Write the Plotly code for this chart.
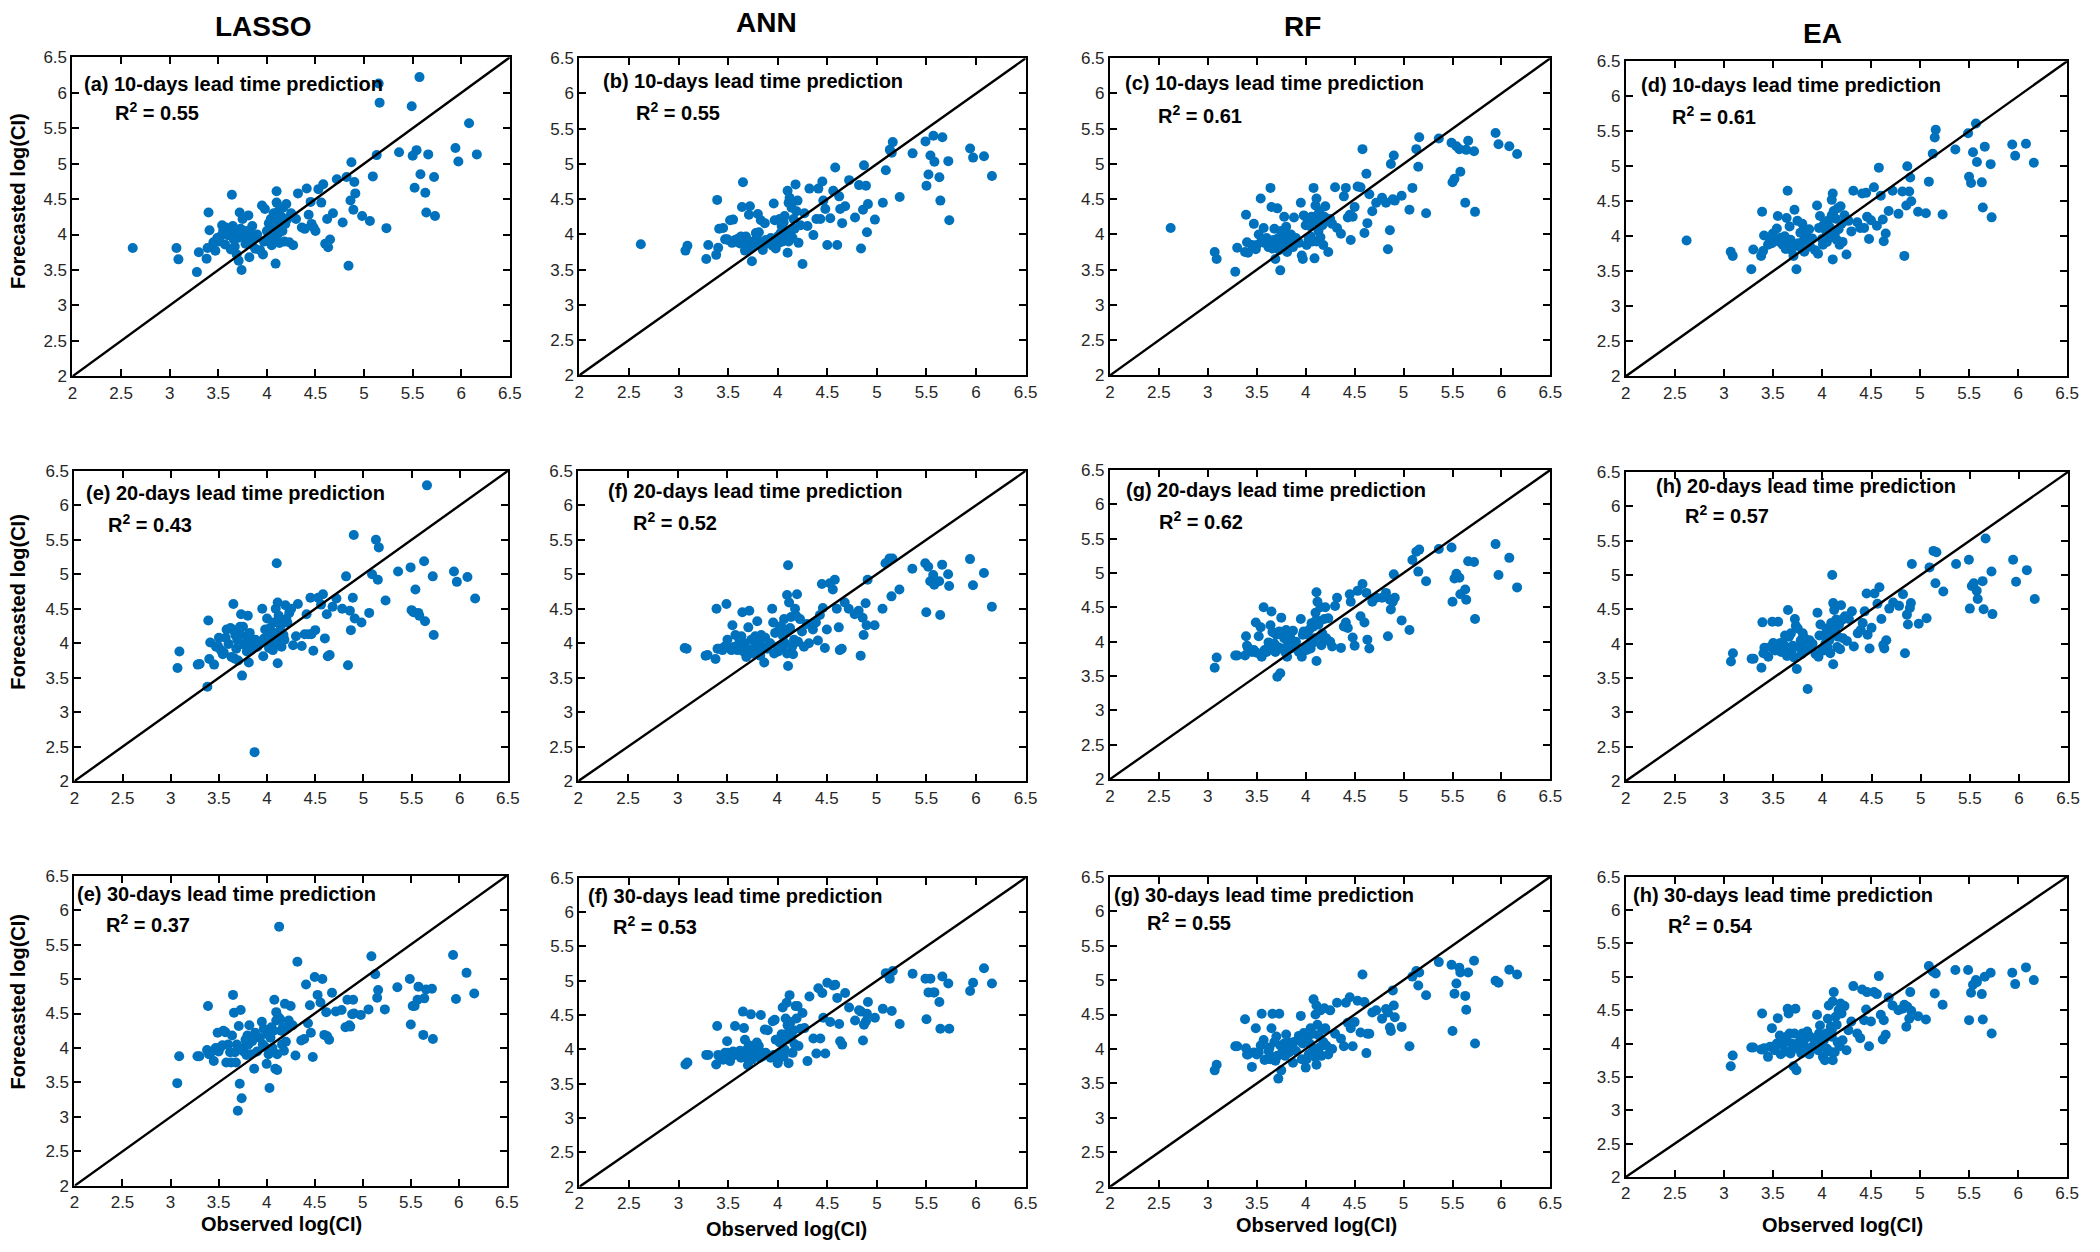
import plotly.graph_objects as go

# ---------------- data ----------------
model_names = ["LASSO", "ANN", "RF", "EA"]
lead_times = ["10-days", "20-days", "30-days"]
panel_tags = ["(a)", "(b)", "(c)", "(d)", "(e)", "(f)", "(g)", "(h)", "(e)", "(f)", "(g)", "(h)"]
r2_values = ["0.55", "0.55", "0.61", "0.61",
             "0.43", "0.52", "0.62", "0.57",
             "0.37", "0.53", "0.55", "0.54"]
axis_range = [2, 6.5]
tick_values = [2, 2.5, 3, 3.5, 4, 4.5, 5, 5.5, 6, 6.5]

obs_common = [
    3.07, 3.09, 3.28, 3.30, 3.38, 3.39, 3.40, 3.41, 3.45, 3.47,
    3.49, 3.50, 3.52, 3.54, 3.55, 3.57, 3.58, 3.60, 3.62, 3.63,
    3.64, 3.65, 3.66, 3.67, 3.68, 3.69, 3.70, 3.71, 3.72, 3.73,
    3.74, 3.75, 3.76, 3.78, 3.79, 3.80, 3.81, 3.82, 3.83, 3.84,
    3.85, 3.87, 3.88, 3.90, 3.93, 3.95, 3.96, 3.97, 3.98, 4.00,
    4.01, 4.02, 4.03, 4.04, 4.05, 4.06, 4.07, 4.08, 4.09, 4.10,
    4.10, 4.11, 4.11, 4.12, 4.13, 4.14, 4.15, 4.16, 4.17, 4.18,
    4.19, 4.20, 4.21, 4.23, 4.25, 4.27, 4.30, 4.32, 4.36, 4.39,
    4.41, 4.43, 4.45, 4.46, 4.48, 4.50, 4.53, 4.56, 4.58, 4.60,
    4.62, 4.63, 4.65, 4.68, 4.72, 4.78, 4.82, 4.84, 4.86, 4.87,
    4.89, 4.90, 4.91, 4.98, 5.06, 5.09, 5.13, 5.15, 5.16, 5.23,
    5.36, 5.49, 5.50, 5.52, 5.54, 5.57, 5.58, 5.63, 5.64, 5.66,
    5.72, 5.73, 5.94, 5.97, 6.08, 6.16]
obs_10d = [2.62] + obs_common
obs_20d = obs_common
obs_30d = obs_common

lasso_10d = [3.81,
    3.81, 3.65, 3.47, 3.75, 3.66, 3.81, 4.31, 4.06, 3.89, 3.77,
    3.95, 3.90, 3.97, 4.13, 4.05, 3.86, 4.10, 3.99, 4.04, 3.79,
    4.56, 4.12, 3.93, 3.83, 4.01, 3.72, 3.95, 3.63, 4.31, 4.08,
    3.50, 4.22, 3.98, 3.87, 4.05, 3.93, 4.27, 3.68, 4.02, 3.86,
    4.12, 3.96, 3.80, 4.00, 3.78, 4.41, 3.72, 3.90, 4.36, 4.05,
    3.92, 4.16, 3.99, 4.22, 3.85, 4.08, 4.30, 3.95, 3.59, 4.61,
    4.45, 4.20, 4.00, 4.33, 3.88, 4.12, 4.25, 4.05, 4.38, 3.90,
    4.15, 4.43, 4.22, 3.89, 4.30, 3.85, 4.22, 4.58, 4.10, 4.08,
    4.65, 4.28, 4.46, 4.15, 4.10, 4.05, 4.64, 4.45, 4.71, 3.87,
    4.22, 3.82, 3.93, 4.30, 4.78, 4.17, 4.81, 3.56, 4.48, 5.02,
    4.35, 4.74, 4.58, 4.26, 4.19, 4.82, 5.12, 6.13, 5.86, 4.09,
    5.16, 5.81, 5.11, 4.66, 5.19, 6.22, 4.85, 4.59, 4.31, 5.13,
    4.81, 4.26, 5.22, 5.03, 5.57, 5.13]

ann_10d = [3.86,
    3.77, 3.84, 3.65, 3.85, 3.71, 4.49, 3.81, 4.08, 4.09, 3.93,
    3.93, 3.92, 4.20, 3.88, 4.21, 3.92, 3.90, 3.94, 3.87, 3.97,
    4.39, 4.74, 3.93, 3.77, 3.97, 3.87, 3.90, 4.28, 4.40, 3.80,
    3.62, 3.90, 3.85, 4.02, 3.95, 4.29, 4.03, 3.88, 4.20, 3.83,
    3.78, 4.16, 3.92, 3.87, 3.95, 3.84, 4.44, 4.20, 3.80, 3.97,
    3.88, 4.22, 4.02, 4.12, 3.90, 4.17, 4.26, 3.95, 4.05, 3.74,
    4.62, 4.45, 3.90, 4.52, 4.02, 4.38, 3.95, 4.22, 4.08, 4.71,
    4.33, 4.48, 3.88, 4.13, 3.58, 4.30, 4.12, 4.65, 3.99, 4.22,
    4.65, 4.22, 4.75, 4.48, 4.36, 3.85, 4.23, 4.62, 4.95, 3.85,
    4.54, 4.36, 4.16, 4.40, 4.77, 4.24, 4.70, 3.80, 4.35, 4.98,
    4.69, 4.03, 4.43, 4.21, 4.45, 4.91, 5.20, 5.16, 5.31, 4.53,
    5.15, 5.32, 4.69, 4.85, 5.12, 5.40, 5.03, 4.81, 4.48, 5.38,
    5.04, 4.20, 5.22, 5.09, 5.11, 4.83]

rf_10d = [4.09,
    3.75, 3.65, 3.47, 3.81, 3.75, 4.28, 3.89, 3.74, 3.85, 4.15,
    3.79, 3.85, 4.00, 4.51, 3.92, 4.09, 3.88, 3.95, 3.82, 3.90,
    4.66, 4.39, 3.80, 3.92, 4.08, 3.65, 3.85, 4.37, 3.95, 3.78,
    3.49, 4.05, 3.87, 4.25, 3.96, 4.11, 3.75, 4.00, 3.83, 3.92,
    4.00, 3.82, 4.24, 3.95, 3.88, 4.45, 3.70, 3.65, 4.27, 4.13,
    3.85, 4.20, 3.93, 4.12, 3.97, 4.25, 3.90, 4.66, 3.66, 4.18,
    4.41, 4.51, 3.90, 4.27, 4.05, 4.33, 3.96, 4.21, 4.13, 3.85,
    4.25, 4.40, 4.18, 3.75, 4.22, 4.15, 4.67, 4.09, 4.01, 4.54,
    4.66, 4.24, 4.28, 3.92, 4.25, 4.39, 4.68, 4.67, 5.21, 4.02,
    4.86, 4.16, 4.57, 4.33, 4.45, 4.52, 4.45, 3.79, 4.06, 5.00,
    4.50, 5.12, 4.48, 4.55, 4.35, 4.66, 5.21, 4.96, 5.38, 4.30,
    5.36, 5.30, 4.74, 4.79, 5.25, 5.21, 4.89, 4.45, 5.20, 5.33,
    5.18, 4.32, 5.44, 5.28, 5.25, 5.14]

ea_10d = [3.94,
    3.78, 3.72, 3.53, 3.81, 3.72, 4.35, 3.79, 4.01, 3.88, 3.95,
    3.90, 4.04, 3.95, 4.11, 4.29, 3.92, 3.98, 3.88, 4.00, 3.82,
    4.26, 4.65, 3.85, 4.14, 3.95, 3.80, 3.90, 3.72, 4.38, 3.87,
    3.53, 4.22, 3.90, 4.05, 3.83, 4.18, 3.93, 3.78, 4.08, 4.00,
    3.95, 4.10, 3.85, 3.97, 3.80, 4.44, 3.75, 4.12, 4.29, 3.96,
    3.88, 4.17, 3.95, 4.08, 3.92, 4.22, 3.98, 4.13, 4.05, 4.30,
    4.52, 4.61, 3.67, 4.36, 4.02, 4.25, 3.95, 4.40, 4.10, 3.88,
    4.43, 4.18, 3.92, 4.30, 3.74, 4.22, 4.07, 4.65, 4.20, 4.12,
    4.61, 4.12, 4.62, 4.28, 3.96, 4.23, 4.70, 4.15, 4.98, 4.58,
    4.24, 3.93, 4.04, 4.36, 4.65, 4.32, 4.64, 3.72, 4.44, 5.00,
    4.64, 4.84, 4.50, 4.35, 4.33, 4.78, 5.18, 5.41, 5.52, 4.31,
    5.24, 5.47, 4.85, 4.76, 5.20, 5.61, 5.06, 4.77, 4.41, 5.28,
    5.03, 4.27, 5.31, 5.15, 5.32, 5.05]

lasso_20d = [
    3.64, 3.88, 3.69, 3.70, 3.37, 4.33, 3.77, 4.01, 3.69, 3.95,
    3.96, 4.08, 3.90, 3.84, 3.87, 4.08, 4.20, 3.99, 4.22, 3.80,
    4.20, 4.57, 3.78, 4.12, 3.92, 4.05, 3.75, 4.15, 4.24, 4.42,
    3.53, 4.24, 3.98, 4.10, 3.88, 4.40, 3.72, 4.15, 3.95, 4.02,
    3.92, 2.42, 4.05, 3.95, 4.00, 4.50, 3.81, 4.07, 4.20, 4.36,
    4.18, 3.93, 4.22, 3.98, 4.10, 3.90, 4.30, 4.00, 4.50, 4.15,
    5.16, 4.59, 3.71, 4.40, 4.02, 4.25, 3.95, 4.33, 4.12, 4.05,
    4.55, 4.35, 4.30, 4.44, 4.50, 3.97, 4.10, 4.57, 3.96, 4.13,
    4.42, 4.13, 4.66, 4.13, 3.89, 4.19, 4.66, 4.56, 4.71, 4.07,
    4.42, 3.81, 3.83, 4.53, 4.65, 4.50, 4.97, 3.68, 4.47, 4.19,
    4.66, 5.57, 4.36, 4.30, 4.44, 5.00, 5.50, 4.92, 5.39, 4.62,
    5.04, 5.10, 4.48, 4.45, 4.78, 4.44, 4.40, 5.19, 4.32, 6.29,
    4.97, 4.12, 5.04, 4.89, 4.96, 4.65]

ann_20d = [
    3.93, 3.92, 3.82, 3.83, 3.77, 4.50, 3.92, 3.92, 3.90, 3.95,
    4.57, 4.05, 3.93, 3.90, 4.26, 3.95, 4.12, 3.90, 4.05, 3.95,
    4.10, 4.45, 3.88, 4.00, 3.95, 3.80, 3.85, 4.23, 4.47, 3.90,
    4.05, 3.85, 3.92, 4.10, 4.02, 4.32, 3.90, 4.00, 3.82, 4.12,
    3.95, 3.72, 4.08, 3.92, 4.00, 4.50, 4.30, 3.85, 4.15, 3.95,
    3.88, 4.20, 3.97, 4.25, 3.92, 4.10, 4.35, 4.00, 4.15, 3.85,
    4.70, 5.13, 3.67, 4.59, 4.22, 4.38, 3.95, 3.84, 4.05, 4.50,
    4.40, 4.71, 4.02, 4.35, 4.17, 3.95, 4.28, 4.00, 4.20, 4.30,
    4.04, 4.41, 4.86, 4.51, 3.93, 4.20, 4.87, 4.78, 4.92, 4.50,
    4.23, 3.90, 3.92, 4.59, 4.50, 4.42, 4.47, 3.82, 4.37, 4.12,
    4.58, 4.26, 4.92, 4.26, 4.50, 5.16, 5.23, 4.68, 5.23, 4.78,
    5.08, 5.16, 4.45, 5.11, 4.90, 4.99, 4.85, 4.90, 4.41, 5.14,
    5.00, 4.83, 5.22, 4.84, 5.02, 4.53]

rf_20d = [
    3.62, 3.77, 3.80, 3.80, 3.80, 4.08, 3.94, 3.91, 3.85, 3.88,
    4.28, 3.84, 4.08, 4.21, 3.78, 4.50, 3.88, 3.85, 3.99, 3.90,
    4.24, 4.44, 4.14, 3.88, 3.97, 3.85, 4.10, 3.49, 3.92, 4.15,
    3.54, 4.35, 3.90, 4.05, 3.85, 4.17, 3.78, 4.00, 3.92, 4.08,
    3.90, 4.16, 3.95, 4.00, 3.85, 4.33, 3.78, 4.10, 4.15, 3.92,
    3.88, 4.10, 3.95, 4.18, 3.90, 4.27, 3.98, 4.22, 4.05, 4.30,
    4.42, 4.72, 3.72, 4.58, 4.25, 4.30, 4.50, 3.95, 4.12, 4.05,
    4.33, 4.50, 4.05, 4.34, 4.00, 3.93, 4.52, 4.64, 3.91, 4.22,
    4.28, 4.20, 4.69, 4.58, 4.06, 3.94, 4.74, 4.37, 4.84, 4.28,
    4.71, 4.03, 3.90, 4.58, 4.64, 4.64, 4.71, 4.08, 4.61, 4.47,
    4.58, 4.98, 4.64, 4.31, 4.17, 5.19, 5.31, 5.02, 5.34, 4.88,
    5.35, 5.37, 4.58, 4.92, 4.99, 4.93, 4.69, 4.76, 4.61, 5.17,
    5.16, 4.33, 5.42, 4.97, 5.22, 4.79]

ea_20d = [
    3.74, 3.86, 3.78, 3.78, 3.65, 4.31, 3.86, 3.94, 3.81, 3.95,
    4.32, 4.01, 3.90, 3.95, 4.32, 4.01, 3.88, 4.00, 4.12, 3.95,
    3.82, 4.49, 4.10, 3.92, 4.15, 3.85, 3.97, 3.80, 4.36, 4.26,
    3.63, 4.22, 3.95, 4.05, 3.85, 4.15, 3.98, 4.08, 3.90, 4.02,
    3.34, 4.05, 3.95, 4.00, 3.85, 4.45, 3.81, 4.12, 4.28, 3.92,
    3.90, 4.12, 4.00, 4.22, 3.95, 4.10, 4.05, 3.86, 4.30, 4.15,
    5.00, 4.59, 3.70, 4.49, 4.20, 4.35, 3.95, 4.10, 4.28, 3.92,
    4.56, 4.35, 4.08, 4.40, 4.04, 4.36, 4.47, 3.96, 4.15, 4.20,
    4.30, 4.47, 4.73, 4.13, 3.93, 4.23, 4.73, 4.58, 4.82, 4.36,
    3.98, 3.93, 4.05, 4.51, 4.60, 4.55, 4.72, 3.86, 4.42, 4.28,
    4.52, 4.59, 5.16, 4.29, 4.37, 5.11, 5.35, 4.88, 5.33, 4.76,
    5.16, 5.22, 4.51, 4.84, 4.88, 4.77, 4.65, 4.91, 4.50, 5.53,
    5.05, 4.43, 5.22, 4.90, 5.07, 4.65]

lasso_30d = [
    3.49, 3.88, 3.88, 3.88, 3.97, 4.61, 3.91, 3.91, 3.81, 4.00,
    4.22, 3.95, 4.01, 4.04, 4.25, 4.23, 3.79, 4.05, 3.94, 3.79,
    4.18, 4.77, 4.51, 3.94, 3.79, 4.05, 3.09, 4.32, 3.48, 4.55,
    3.27, 4.00, 3.95, 4.12, 3.90, 4.18, 4.05, 4.33, 3.91, 4.15,
    4.10, 3.70, 4.22, 3.95, 4.15, 4.38, 4.05, 4.28, 4.02, 3.77,
    4.20, 3.91, 3.42, 4.15, 4.30, 4.00, 4.25, 4.70, 3.70, 4.40,
    4.52, 3.68, 3.91, 4.45, 5.76, 4.42, 4.25, 4.05, 4.30, 3.96,
    4.64, 4.09, 4.28, 4.40, 4.61, 4.33, 3.89, 5.25, 4.11, 4.13,
    4.92, 4.36, 4.62, 4.22, 3.87, 5.03, 4.77, 4.66, 5.00, 4.19,
    4.52, 4.17, 4.12, 4.80, 4.53, 4.55, 4.30, 4.70, 4.33, 4.31,
    4.49, 4.70, 4.50, 4.48, 4.56, 5.33, 5.07, 4.73, 4.84, 4.56,
    4.88, 5.00, 4.34, 4.61, 4.61, 4.70, 4.89, 4.19, 4.72, 4.85,
    4.86, 4.13, 5.35, 4.71, 5.09, 4.79]

ann_30d = [
    3.78, 3.81, 3.92, 3.92, 3.78, 4.34, 3.92, 3.90, 3.85, 3.95,
    4.12, 3.95, 3.83, 3.90, 3.97, 4.34, 3.95, 3.92, 3.98, 3.88,
    3.95, 4.55, 4.31, 4.14, 3.88, 4.00, 3.77, 4.06, 3.85, 4.51,
    3.85, 3.95, 4.02, 3.92, 4.10, 3.98, 4.05, 3.88, 4.50, 3.95,
    3.90, 4.29, 3.95, 4.28, 3.88, 4.41, 3.92, 4.43, 4.14, 3.80,
    3.85, 4.10, 3.95, 4.22, 4.61, 3.90, 4.00, 4.45, 4.68, 4.15,
    4.35, 3.80, 4.25, 4.79, 4.40, 4.20, 3.95, 4.28, 4.08, 4.63,
    4.45, 4.63, 4.05, 4.30, 4.53, 4.31, 3.83, 4.77, 4.16, 3.94,
    4.89, 4.16, 4.82, 4.46, 3.94, 4.97, 4.40, 4.93, 4.94, 4.75,
    4.37, 4.12, 4.07, 4.82, 4.61, 4.42, 4.57, 4.55, 4.13, 4.36,
    4.41, 4.52, 4.69, 4.46, 4.59, 5.11, 5.03, 4.56, 5.14, 4.37,
    5.10, 5.03, 4.44, 4.83, 5.03, 4.83, 4.83, 4.69, 4.30, 5.06,
    4.96, 4.30, 4.85, 4.97, 5.18, 4.96]

rf_30d = [
    3.69, 3.77, 4.04, 4.04, 4.43, 4.01, 3.92, 3.92, 3.74, 3.95,
    4.30, 3.92, 3.95, 4.05, 4.51, 4.13, 3.84, 3.85, 3.97, 4.02,
    3.85, 4.30, 4.51, 3.88, 4.10, 3.83, 4.18, 3.90, 3.57, 4.51,
    4.05, 3.69, 3.95, 4.08, 3.90, 4.21, 4.00, 4.10, 3.95, 4.05,
    4.05, 3.80, 4.10, 3.97, 4.19, 4.48, 3.85, 4.08, 4.23, 3.73,
    3.85, 4.18, 3.92, 4.08, 4.30, 3.95, 4.22, 4.72, 4.00, 3.88,
    4.50, 4.63, 3.77, 4.35, 4.20, 4.02, 4.56, 3.90, 4.28, 4.10,
    4.59, 4.30, 4.05, 3.92, 4.56, 4.00, 4.22, 4.67, 4.15, 4.04,
    4.67, 4.38, 4.75, 4.30, 4.04, 4.39, 4.70, 4.24, 5.08, 4.68,
    3.94, 4.22, 4.22, 4.53, 4.56, 4.44, 4.58, 4.53, 4.31, 4.26,
    4.85, 4.63, 4.46, 4.32, 4.04, 5.05, 5.13, 4.92, 5.11, 4.78,
    5.26, 5.22, 4.26, 4.80, 4.95, 5.18, 5.11, 4.77, 4.57, 5.11,
    5.28, 4.08, 4.99, 4.96, 5.15, 5.08]

ea_30d = [
    3.66, 3.82, 3.94, 3.94, 3.91, 4.45, 3.91, 3.93, 3.80, 3.95,
    4.23, 3.95, 3.90, 4.00, 4.38, 4.12, 3.84, 3.98, 4.05, 3.88,
    4.10, 4.52, 4.45, 4.15, 3.85, 4.00, 3.92, 3.66, 4.15, 4.52,
    3.60, 4.00, 3.92, 4.10, 3.85, 4.15, 4.02, 3.95, 4.08, 3.90,
    4.18, 3.84, 4.10, 3.95, 4.05, 4.43, 3.90, 4.15, 4.27, 4.00,
    3.80, 4.05, 3.75, 4.15, 3.92, 4.37, 4.57, 3.88, 4.25, 4.10,
    4.20, 4.63, 3.75, 4.77, 3.87, 4.40, 4.28, 4.02, 4.50, 3.96,
    4.60, 4.45, 4.05, 4.56, 3.90, 4.20, 4.33, 4.86, 4.15, 4.08,
    4.81, 4.35, 4.51, 4.77, 3.96, 4.33, 4.77, 4.74, 5.01, 4.43,
    4.06, 4.35, 4.13, 4.69, 4.57, 4.50, 4.52, 4.58, 4.25, 4.55,
    4.37, 4.77, 4.49, 4.41, 4.36, 5.16, 5.08, 4.75, 5.05, 4.58,
    5.10, 5.10, 4.35, 4.76, 4.88, 4.95, 4.92, 4.74, 4.36, 5.00,
    5.06, 4.15, 5.06, 4.89, 5.14, 4.95]

observed_by_row = [obs_10d, obs_20d, obs_30d]
forecasts_by_panel = [lasso_10d, ann_10d, rf_10d, ea_10d,
                      lasso_20d, ann_20d, rf_20d, ea_20d,
                      lasso_30d, ann_30d, rf_30d, ea_30d]

# ---------------- layout geometry (pixels) ----------------
W, H = 2100, 1252
panel_boxes = [  # left, right, top, bottom
    (68, 509, 49, 373), (579, 1029, 50, 372), (1114, 1558, 50, 372), (1634, 2079, 53, 373),
    (70, 507, 469, 784), (578, 1029, 469, 784), (1114, 1558, 468, 782), (1634, 2080, 470, 784),
    (70, 506, 880, 1195), (579, 1029, 882, 1196), (1114, 1558, 881, 1196), (1634, 2079, 881, 1186)]
label_pos = [(78, 76), (601, 73), (1127, 75), (1647, 77), (80, 491), (606, 489), (1128, 488),
             (1662, 484), (71, 899), (586, 901), (1116, 900), (1639, 900)]
r2_pos = [(109, 104), (634, 104), (1160, 107), (1679, 108), (102, 522), (631, 520), (1161, 519),
          (1692, 513), (100, 929), (611, 931), (1149, 927), (1675, 930)]
title_pos = [(260, 18), (768, 14), (1308, 18), (1832, 25)]
ytitle_pos = [(13, 195), (13, 602), (13, 1008)]
xtitle_pos = [(279, 1234), (788, 1239), (1322, 1235), (1852, 1235)]

FONT = "Arial, 'Liberation Sans', Helvetica, sans-serif"
DOT = "#0072BD"

fig = go.Figure()
layout = dict(width=W, height=H, margin=dict(l=0, r=0, t=0, b=0),
              paper_bgcolor="white", plot_bgcolor="white", showlegend=False,
              font=dict(family=FONT, color="#262626"))
annotations = []

for i in range(12):
    n = i + 1
    sfx = "" if n == 1 else str(n)
    xs = observed_by_row[i // 4]
    ys = forecasts_by_panel[i]
    assert len(xs) == len(ys), (i, len(xs), len(ys))
    fig.add_trace(go.Scatter(x=xs, y=ys, mode="markers", xaxis="x" + sfx, yaxis="y" + sfx,
                             marker=dict(color=DOT, size=10, line=dict(width=0)),
                             hoverinfo="skip"))
    fig.add_trace(go.Scatter(x=axis_range, y=axis_range, mode="lines", xaxis="x" + sfx,
                             yaxis="y" + sfx, line=dict(color="black", width=2.4),
                             hoverinfo="skip"))
    l, r, t, b = panel_boxes[i]
    common = dict(range=axis_range, tickvals=tick_values, showgrid=False, zeroline=False,
                  showline=True, mirror="allticks", linecolor="black", linewidth=2,
                  ticks="inside", ticklen=7, tickwidth=1.5, tickcolor="black",
                  tickfont=dict(size=17, color="#262626", family=FONT))
    layout["xaxis" + sfx] = dict(domain=[l / W, r / W], anchor="y" + sfx, **common)
    layout["yaxis" + sfx] = dict(domain=[1 - b / H, 1 - t / H], anchor="x" + sfx, **common)

    lx, ly = label_pos[i]
    annotations.append(dict(x=lx / W, y=1 - ly / H, xref="paper", yref="paper",
                            xanchor="left", yanchor="middle", showarrow=False,
                            text=f"<b>{panel_tags[i]} {lead_times[i // 4]} lead time prediction</b>",
                            font=dict(size=20, color="black", family=FONT)))
    rx, ry = r2_pos[i]
    annotations.append(dict(x=rx / W, y=1 - ry / H, xref="paper", yref="paper",
                            xanchor="left", yanchor="middle", showarrow=False,
                            text=f"<b>R<sup>2</sup> = {r2_values[i]}</b>",
                            font=dict(size=20, color="black", family=FONT)))

for j, name in enumerate(model_names):
    tx, ty = title_pos[j]
    annotations.append(dict(x=tx / W, y=1 - ty / H, xref="paper", yref="paper",
                            xanchor="center", yanchor="middle", showarrow=False,
                            text=f"<b>{name}</b>", font=dict(size=28, color="black", family=FONT)))
    xx, xy = xtitle_pos[j]
    annotations.append(dict(x=xx / W, y=1 - xy / H, xref="paper", yref="paper",
                            xanchor="center", yanchor="middle", showarrow=False,
                            text="<b>Observed log(CI)</b>",
                            font=dict(size=20, color="black", family=FONT)))
for (yx, yy) in ytitle_pos:
    annotations.append(dict(x=yx / W, y=1 - yy / H, xref="paper", yref="paper",
                            xanchor="center", yanchor="middle", showarrow=False, textangle=-90,
                            text="<b>Forecasted log(CI)</b>",
                            font=dict(size=20, color="black", family=FONT)))

layout["annotations"] = annotations
fig.update_layout(**layout)

fig.write_html("out.html", config={"displayModeBar": False},
               post_script="document.body.style.margin='0';")
